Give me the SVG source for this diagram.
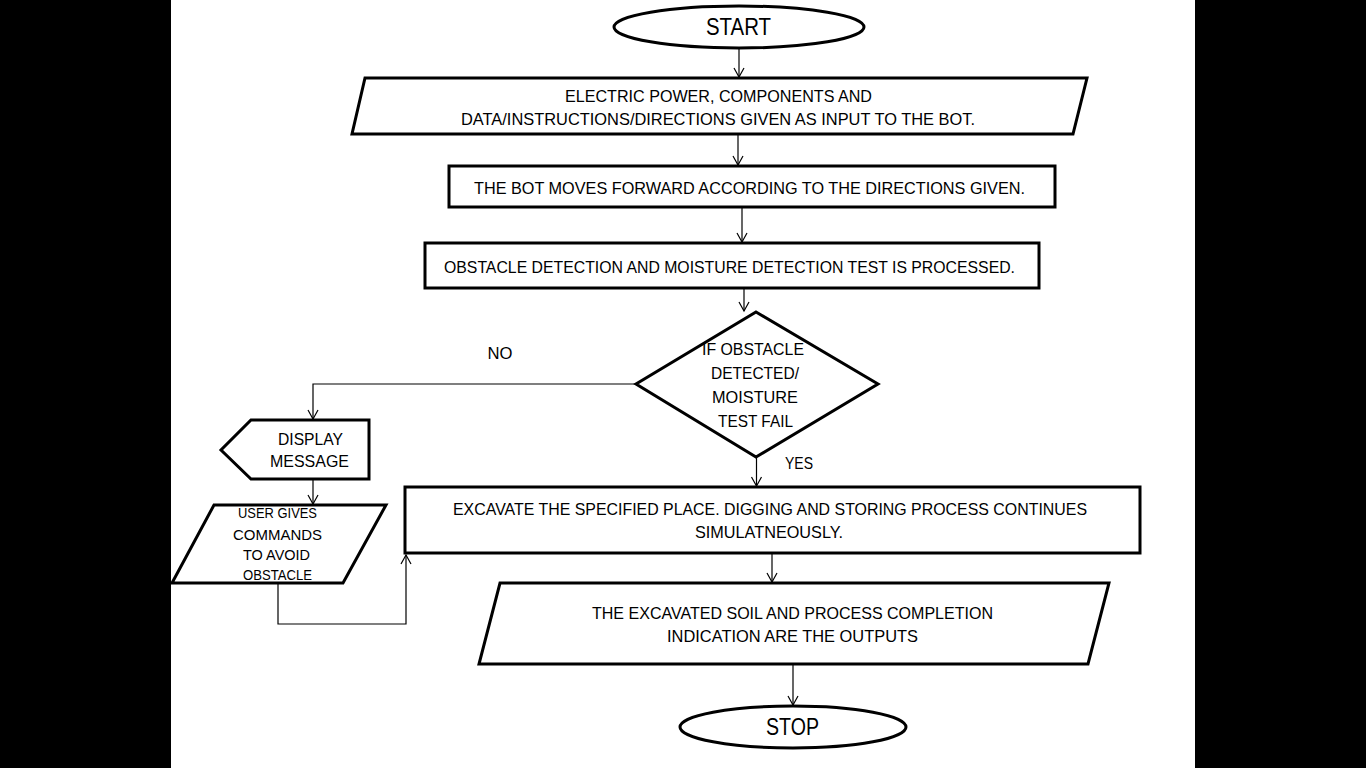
<svg xmlns="http://www.w3.org/2000/svg" width="1366" height="768" viewBox="0 0 1366 768">
<style>
.shape{fill:#ffffff;stroke:#000000;stroke-width:3;stroke-linejoin:miter}
.conn{fill:none;stroke:#000000;stroke-width:1.2}
text{font-family:"Liberation Sans",Arial,sans-serif;fill:#000000;text-anchor:middle}
.t{font-size:16.5px}
.s{font-size:15px}
.b{font-size:23px}
</style>
<defs>
<marker id="arr" markerUnits="userSpaceOnUse" markerWidth="12" markerHeight="14" viewBox="-1 -7 12 14" refX="9" refY="0" orient="auto">
<path d="M0,-5 L9,0 L0,5" fill="none" stroke="#000000" stroke-width="1.2"/>
</marker>
</defs>
<rect x="0" y="0" width="1366" height="768" fill="#000000"/>
<rect x="171" y="0" width="1024" height="768" fill="#ffffff"/>

<g id="connectors">
<line class="conn" x1="739" y1="49" x2="739" y2="77" marker-end="url(#arr)"/>
<line class="conn" x1="738" y1="135" x2="738" y2="165" marker-end="url(#arr)"/>
<line class="conn" x1="742" y1="208" x2="742" y2="242" marker-end="url(#arr)"/>
<line class="conn" x1="744" y1="289" x2="744" y2="311" marker-end="url(#arr)"/>
<line class="conn" x1="756.5" y1="458" x2="756.5" y2="486" marker-end="url(#arr)"/>
<polyline class="conn" points="636,384 313,384 313,419" marker-end="url(#arr)"/>
<line class="conn" x1="313" y1="480" x2="313" y2="504" marker-end="url(#arr)"/>
<polyline class="conn" points="278,584 278,624 406,624 406,555" marker-end="url(#arr)"/>
<line class="conn" x1="772" y1="554" x2="772" y2="582" marker-end="url(#arr)"/>
<line class="conn" x1="793" y1="665" x2="793" y2="705" marker-end="url(#arr)"/>
<text class="t" x="500" y="359" textLength="25" lengthAdjust="spacingAndGlyphs">NO</text>
<text class="t" x="799" y="469" textLength="28" lengthAdjust="spacingAndGlyphs">YES</text>
</g>

<g id="start">
<ellipse class="shape" cx="739" cy="27" rx="125" ry="21"/>
<text class="b" x="738.5" y="35" textLength="65" lengthAdjust="spacingAndGlyphs">START</text>
</g>

<g id="input">
<polygon class="shape" points="365,78 1087,78 1073,134 352,134"/>
<text class="t" x="718.5" y="102" textLength="307" lengthAdjust="spacingAndGlyphs">ELECTRIC POWER, COMPONENTS AND</text>
<text class="t" x="718" y="125" textLength="514" lengthAdjust="spacingAndGlyphs">DATA/INSTRUCTIONS/DIRECTIONS GIVEN AS INPUT TO THE BOT.</text>
</g>

<g id="move">
<rect class="shape" x="449" y="166" width="606" height="41"/>
<text class="t" x="749.5" y="194" textLength="551" lengthAdjust="spacingAndGlyphs">THE BOT MOVES FORWARD ACCORDING TO THE DIRECTIONS GIVEN.</text>
</g>

<g id="detect">
<rect class="shape" x="425" y="243" width="614" height="45"/>
<text class="t" x="729.5" y="273" textLength="571" lengthAdjust="spacingAndGlyphs">OBSTACLE DETECTION AND MOISTURE DETECTION TEST IS PROCESSED.</text>
</g>

<g id="decision">
<polygon class="shape" points="756,312 878,384 756,457 636,384"/>
<text class="t" x="753" y="355" textLength="102" lengthAdjust="spacingAndGlyphs">IF OBSTACLE</text>
<text class="t" x="755" y="379" textLength="88" lengthAdjust="spacingAndGlyphs">DETECTED/</text>
<text class="t" x="755" y="403" textLength="86" lengthAdjust="spacingAndGlyphs">MOISTURE</text>
<text class="t" x="755.5" y="427" textLength="75" lengthAdjust="spacingAndGlyphs">TEST FAIL</text>
</g>

<g id="display">
<polygon class="shape" points="251,420 369,420 369,479 251,479 221,450"/>
<text class="t" x="310.5" y="445" textLength="65" lengthAdjust="spacingAndGlyphs">DISPLAY</text>
<text class="t" x="309.5" y="467" textLength="79" lengthAdjust="spacingAndGlyphs">MESSAGE</text>
</g>

<g id="user">
<polygon class="shape" points="214,505 386,505 343,583 172,583"/>
<text class="s" x="277.5" y="518" textLength="79" lengthAdjust="spacingAndGlyphs">USER GIVES</text>
<text class="s" x="277.5" y="540" textLength="89" lengthAdjust="spacingAndGlyphs">COMMANDS</text>
<text class="s" x="276.5" y="560" textLength="67" lengthAdjust="spacingAndGlyphs">TO AVOID</text>
<text class="s" x="277.5" y="580" textLength="69" lengthAdjust="spacingAndGlyphs">OBSTACLE</text>
</g>

<g id="excavate">
<rect class="shape" x="405" y="487" width="735" height="66"/>
<text class="t" x="770" y="515" textLength="634" lengthAdjust="spacingAndGlyphs">EXCAVATE THE SPECIFIED PLACE. DIGGING AND STORING PROCESS CONTINUES</text>
<text class="t" x="769" y="538" textLength="148" lengthAdjust="spacingAndGlyphs">SIMULATNEOUSLY.</text>
</g>

<g id="output">
<polygon class="shape" points="500,583 1109,583 1088,664 479,664"/>
<text class="t" x="792.5" y="619" textLength="401" lengthAdjust="spacingAndGlyphs">THE EXCAVATED SOIL AND PROCESS COMPLETION</text>
<text class="t" x="792.5" y="642" textLength="251" lengthAdjust="spacingAndGlyphs">INDICATION ARE THE OUTPUTS</text>
</g>

<g id="stop">
<ellipse class="shape" cx="793" cy="727" rx="113" ry="21"/>
<text class="b" x="792.5" y="735" textLength="53" lengthAdjust="spacingAndGlyphs">STOP</text>
</g>
</svg>
